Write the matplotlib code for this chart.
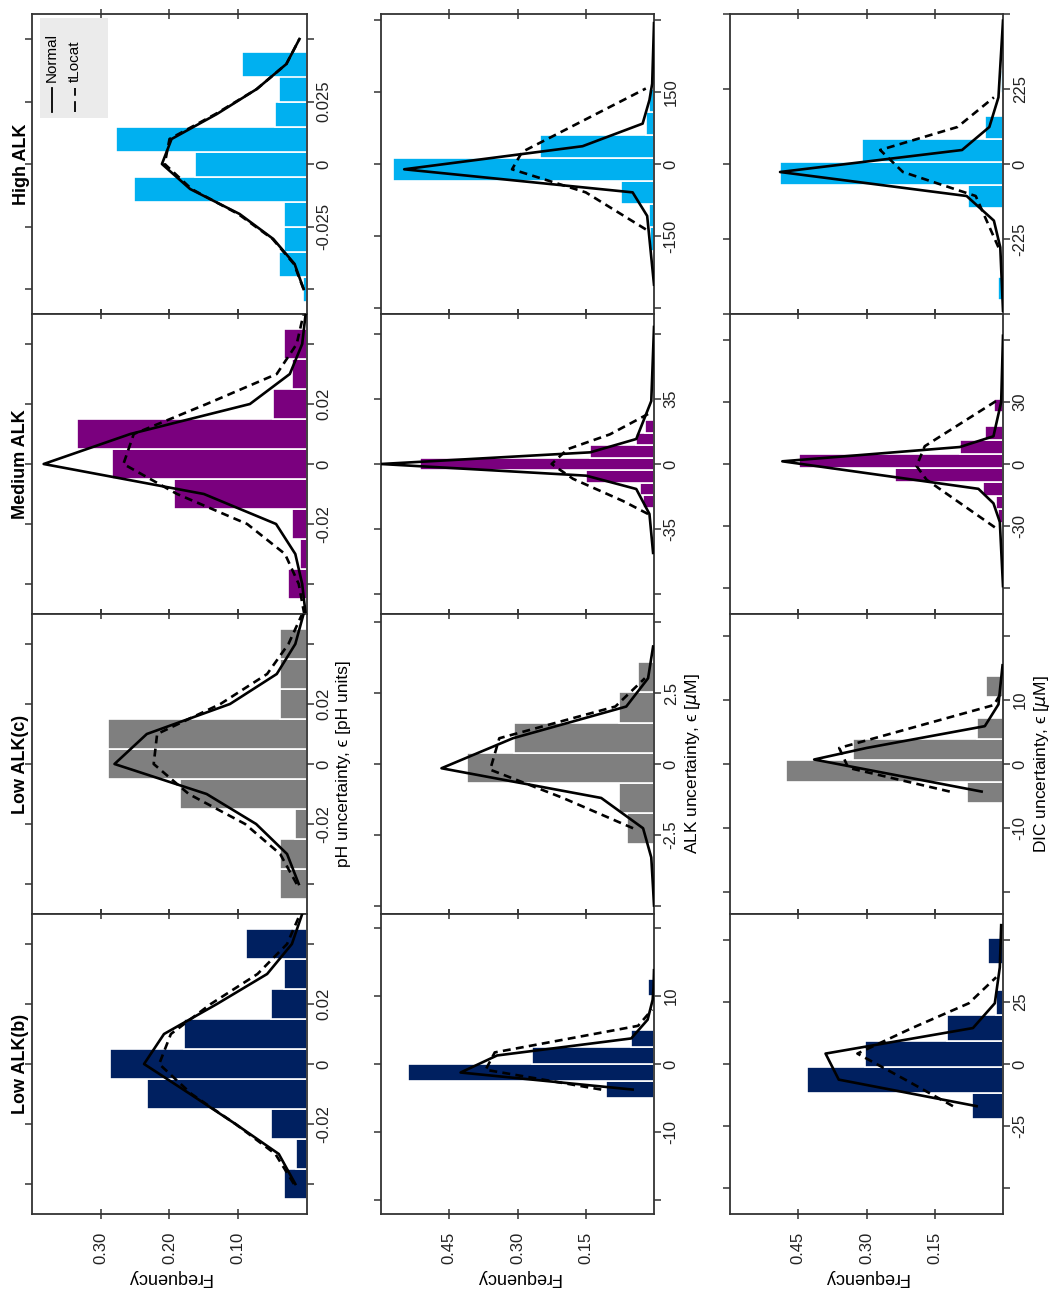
import numpy as np
import matplotlib
matplotlib.use('Agg')
import matplotlib.pyplot as plt
from matplotlib.patches import Rectangle
from matplotlib.lines import Line2D

plt.rcParams['font.family'] = ['Liberation Sans', 'DejaVu Sans']
plt.rcParams['axes.unicode_minus'] = False

# ---------------- data ----------------
groups = ['High ALK', 'Medium ALK', 'Low ALK(c)', 'Low ALK(b)']
group_colors = ['#00b0f0', '#7a007e', '#7f7f7f', '#002060']
variables = ['pH', 'ALK', 'DIC']
var_labels = ['pH uncertainty, \u03f5 [pH units]',
              'ALK uncertainty, \u03f5 [$\\mu$M]',
              'DIC uncertainty, \u03f5 [$\\mu$M]']

# pH
ph_high_bins = [-0.05, -0.04, -0.03, -0.02, -0.01, 0.0, 0.01, 0.02, 0.03, 0.04]
ph_high_freq = [0.006, 0.041, 0.034, 0.034, 0.251, 0.163, 0.278, 0.046, 0.040, 0.094]
ph_high_npts = [-0.05, -0.04, -0.03, -0.02, -0.01, 0.0, 0.01, 0.02, 0.03, 0.04, 0.05]
ph_high_norm = [0.005, 0.018, 0.049, 0.098, 0.170, 0.211, 0.197, 0.131, 0.073, 0.030, 0.011]
ph_high_tpts = [-0.05, -0.04, -0.03, -0.02, -0.01, 0.0, 0.01, 0.02, 0.03, 0.04, 0.05]
ph_high_tloc = [0.005, 0.019, 0.050, 0.100, 0.168, 0.207, 0.200, 0.133, 0.073, 0.030, 0.011]

ph_med_bins = [-0.04, -0.03, -0.02, -0.01, 0.0, 0.01, 0.02, 0.03, 0.04]
ph_med_freq = [0.028, 0.010, 0.022, 0.193, 0.284, 0.335, 0.049, 0.022, 0.034]
ph_med_npts = [-0.05, -0.04, -0.03, -0.02, -0.01, 0.0, 0.01, 0.02, 0.03, 0.04, 0.05]
ph_med_norm = [0.002, 0.007, 0.017, 0.045, 0.150, 0.383, 0.257, 0.083, 0.025, 0.007, 0.002]
ph_med_tpts = [-0.05, -0.04, -0.03, -0.02, -0.01, 0.0, 0.01, 0.02, 0.03, 0.04, 0.05]
ph_med_tloc = [0.004, 0.012, 0.032, 0.087, 0.189, 0.267, 0.252, 0.146, 0.044, 0.015, 0.005]

ph_lowc_bins = [-0.04, -0.03, -0.02, -0.01, 0.0, 0.01, 0.02, 0.03, 0.04]
ph_lowc_freq = [0.039, 0.039, 0.018, 0.184, 0.289, 0.289, 0.039, 0.039, 0.039]
ph_lowc_npts = [-0.04, -0.03, -0.02, -0.01, 0.0, 0.01, 0.02, 0.03, 0.04, 0.05]
ph_lowc_norm = [0.012, 0.029, 0.074, 0.146, 0.280, 0.233, 0.112, 0.044, 0.017, 0.005]
ph_lowc_tpts = [-0.04, -0.03, -0.02, -0.01, 0.0, 0.01, 0.02, 0.03, 0.04, 0.05]
ph_lowc_tloc = [0.015, 0.039, 0.090, 0.172, 0.223, 0.218, 0.126, 0.058, 0.027, 0.007]

ph_lowb_bins = [-0.04, -0.03, -0.02, -0.01, 0.0, 0.01, 0.02, 0.03, 0.04]
ph_lowb_freq = [0.034, 0.016, 0.052, 0.232, 0.286, 0.179, 0.052, 0.034, 0.088]
ph_lowb_npts = [-0.04, -0.03, -0.02, -0.01, 0.0, 0.01, 0.02, 0.03, 0.04, 0.05]
ph_lowb_norm = [0.017, 0.041, 0.104, 0.170, 0.237, 0.208, 0.131, 0.058, 0.022, 0.007]
ph_lowb_tpts = [-0.04, -0.03, -0.02, -0.01, 0.0, 0.01, 0.02, 0.03, 0.04, 0.05]
ph_lowb_tloc = [0.019, 0.046, 0.104, 0.168, 0.215, 0.198, 0.140, 0.072, 0.029, 0.010]

# ALK
alk_high_bins = [-156, -108, -59, -11, 37, 85, 133]
alk_high_freq = [0.009, 0.011, 0.073, 0.574, 0.251, 0.017, 0.010]
alk_high_npts = [-251, -108, -59, -11, 37, 84, 133, 167, 293]
alk_high_norm = [0.0, 0.015, 0.047, 0.549, 0.157, 0.025, 0.010, 0.004, 0.0]
alk_high_tpts = [-136, -59, -11, 25, 157]
alk_high_tloc = [0.018, 0.150, 0.312, 0.290, 0.018]

alk_med_bins = [-20.4, -13.6, -6.8, 0.0, 6.8, 13.6, 20.4]
alk_med_freq = [0.025, 0.030, 0.150, 0.514, 0.140, 0.040, 0.020]
alk_med_npts = [-48, -27, -13.5, -6.3, 0, 6.3, 13.5, 34, 74]
alk_med_norm = [0.002, 0.010, 0.039, 0.149, 0.600, 0.140, 0.039, 0.006, 0.0]
alk_med_tpts = [-27, -20, -8, 0, 8, 16, 27]
alk_med_tloc = [0.013, 0.068, 0.178, 0.225, 0.190, 0.097, 0.013]

alk_lowc_bins = [-2.28, -1.21, -0.14, 0.93, 2.0, 3.07]
alk_lowc_freq = [0.059, 0.077, 0.412, 0.308, 0.077, 0.035]
alk_lowc_npts = [-5.0, -4.4, -3.3, -2.27, -1.2, -0.15, 0.91, 2.03, 3.03, 4.15]
alk_lowc_norm = [0.0, 0.002, 0.006, 0.024, 0.116, 0.467, 0.310, 0.061, 0.013, 0.002]
alk_lowc_tpts = [-2.27, -1.2, -0.2, 0.91, 2.03, 3.03]
alk_lowc_tloc = [0.046, 0.200, 0.360, 0.340, 0.085, 0.020]

alk_lowb_bins = [-3.75, -1.25, 1.25, 3.75, 6.25, 8.75, 11.25]
alk_lowb_freq = [0.105, 0.540, 0.269, 0.050, 0.0, 0.0, 0.014]
alk_lowb_npts = [-3.75, -1.25, 1.25, 3.75, 6.5, 9.4, 11.25, 13.75]
alk_lowb_norm = [0.047, 0.425, 0.345, 0.050, 0.014, 0.003, 0.001, 0.0]
alk_lowb_tpts = [-3.75, -0.85, 1.7, 5.6, 8.0]
alk_lowb_tloc = [0.116, 0.370, 0.350, 0.035, 0.004]

# DIC
dic_high_bins = [-372, -303, -234, -165, -96, -27, 42, 111, 180, 249]
dic_high_freq = [0.010, 0.0, 0.0, 0.0, 0.077, 0.490, 0.310, 0.040, 0.0, 0.005]
dic_high_npts = [-440, -250, -170, -96, -24, 42, 111, 200, 430]
dic_high_norm = [0.0, 0.006, 0.020, 0.080, 0.490, 0.090, 0.030, 0.010, 0.0]
dic_high_tpts = [-250, -96, -24, 42, 111, 200]
dic_high_tloc = [0.010, 0.060, 0.220, 0.270, 0.100, 0.020]

dic_med_bins = [-25.3, -18.6, -11.9, -5.2, 1.5, 8.2, 14.9, 21.6, 28.3]
dic_med_freq = [0.010, 0.015, 0.043, 0.238, 0.448, 0.095, 0.040, 0.0, 0.020]
dic_med_npts = [-59, -28, -19, -12, 1.3, 8.2, 13.4, 30, 62]
dic_med_norm = [0.0, 0.007, 0.021, 0.054, 0.485, 0.095, 0.021, 0.004, 0.0]
dic_med_tpts = [-30.6, -7.6, -1.0, 8.6, 30.6]
dic_med_tloc = [0.018, 0.168, 0.190, 0.172, 0.014]

dic_lowc_bins = [-4.4, -1.1, 2.2, 5.5, 8.8, 12.1]
dic_lowc_freq = [0.080, 0.477, 0.330, 0.058, 0.0, 0.0375]
dic_lowc_npts = [-4.3, 0.7, 2.5, 5.9, 9.3, 15.4]
dic_lowc_norm = [0.047, 0.415, 0.300, 0.040, 0.010, 0.001]
dic_lowc_tpts = [-4.3, -0.6, 2.5, 9.2, 11.0]
dic_lowc_tloc = [0.117, 0.340, 0.360, 0.020, 0.005]

dic_lowb_bins = [-16.8, -6.4, 4.0, 14.4, 24.8, 35.2, 45.6]
dic_lowb_freq = [0.069, 0.431, 0.304, 0.124, 0.015, 0.0, 0.033]
dic_lowb_npts = [-17, -6.3, 4.2, 14.5, 24.5, 39, 56]
dic_lowb_norm = [0.058, 0.361, 0.390, 0.066, 0.018, 0.007, 0.004]
dic_lowb_tpts = [-17, -6.3, 4.2, 14.5, 24.5, 35]
dic_lowb_tloc = [0.110, 0.215, 0.320, 0.200, 0.075, 0.015]

# frequency axis per column
freq_max = [0.4, 0.6, 0.6]
freq_ticks = [[0.1, 0.2, 0.3], [0.15, 0.30, 0.45], [0.15, 0.30, 0.45]]
freq_ticklabels = [['0.10', '0.20', '0.30'], ['0.15', '0.30', '0.45'], ['0.15', '0.30', '0.45']]

panels = {
    'pH': [
        (ph_high_bins, ph_high_freq, ph_high_npts, ph_high_norm, ph_high_tpts, ph_high_tloc),
        (ph_med_bins, ph_med_freq, ph_med_npts, ph_med_norm, ph_med_tpts, ph_med_tloc),
        (ph_lowc_bins, ph_lowc_freq, ph_lowc_npts, ph_lowc_norm, ph_lowc_tpts, ph_lowc_tloc),
        (ph_lowb_bins, ph_lowb_freq, ph_lowb_npts, ph_lowb_norm, ph_lowb_tpts, ph_lowb_tloc),
    ],
    'ALK': [
        (alk_high_bins, alk_high_freq, alk_high_npts, alk_high_norm, alk_high_tpts, alk_high_tloc),
        (alk_med_bins, alk_med_freq, alk_med_npts, alk_med_norm, alk_med_tpts, alk_med_tloc),
        (alk_lowc_bins, alk_lowc_freq, alk_lowc_npts, alk_lowc_norm, alk_lowc_tpts, alk_lowc_tloc),
        (alk_lowb_bins, alk_lowb_freq, alk_lowb_npts, alk_lowb_norm, alk_lowb_tpts, alk_lowb_tloc),
    ],
    'DIC': [
        (dic_high_bins, dic_high_freq, dic_high_npts, dic_high_norm, dic_high_tpts, dic_high_tloc),
        (dic_med_bins, dic_med_freq, dic_med_npts, dic_med_norm, dic_med_tpts, dic_med_tloc),
        (dic_lowc_bins, dic_lowc_freq, dic_lowc_npts, dic_lowc_norm, dic_lowc_tpts, dic_lowc_tloc),
        (dic_lowb_bins, dic_lowb_freq, dic_lowb_npts, dic_lowb_norm, dic_lowb_tpts, dic_lowb_tloc),
    ],
}

# uncertainty axis: half range, tick step (labels only on the inner three ticks)
unc_range = {
    'pH': [(0.06, 0.025), (0.05, 0.02), (0.05, 0.02), (0.05, 0.02)],
    'ALK': [(312, 150), (81, 35), (5.3, 2.5), (22, 10)],
    'DIC': [(445, 225), (72.5, 30), (23.4, 10), (60.5, 25)],
}

# ---------------- layout (pixels) ----------------
W, H = 1052, 1290
col_left = [32, 381, 730]
col_width = [275, 273, 273]
row_top = [14, 314, 614, 914]
row_h = 300
frame_col = '#333333'

fig = plt.figure(figsize=(W / 100, H / 100), dpi=100)


def px_axes(x0, y0, w, h):
    return fig.add_axes([x0 / W, 1 - (y0 + h) / H, w / W, h / H])


for c, var in enumerate(variables):
    for r, grp in enumerate(groups):
        ax = px_axes(col_left[c], row_top[r], col_width[c], row_h)
        bins, freq, npts, norm, tpts, tloc = panels[var][r]
        width = bins[1] - bins[0]
        ax.barh(bins, freq, height=width, color=group_colors[r],
                edgecolor='white', linewidth=1.2, zorder=1)
        ax.plot(tloc, tpts, color='black', lw=1.9, ls=(0, (3, 2)), zorder=2)
        ax.plot(norm, npts, color='black', lw=1.9, zorder=3)

        ax.set_xlim(freq_max[c], 0)
        half, step = unc_range[var][r]
        ax.set_ylim(-half, half)
        ticks = [-2 * step, -step, 0, step, 2 * step]
        labels = ['', '%g' % -step, '0', '%g' % step, '']
        ax.set_yticks(ticks)
        ax.set_yticklabels(labels, rotation=90, va='center', ha='left')
        ax.tick_params(axis='y', left=True, right=True, labelleft=False,
                       labelright=True, direction='out', length=5, width=1.1,
                       pad=2, labelsize=12, color=frame_col, labelcolor='#222222')

        ax.set_xticks(freq_ticks[c])
        if r == len(groups) - 1:
            ax.set_xticklabels(freq_ticklabels[c], rotation=90, ha='center', va='top')
            ax.set_xlabel('Frequency', rotation=180, fontsize=13, labelpad=4)
        else:
            ax.set_xticklabels([])
        ax.tick_params(axis='x', top=True, bottom=True, direction='inout',
                       length=7, width=1.1, pad=9, labelsize=12,
                       color=frame_col, labelcolor='#222222')

        if r == 2:
            ax.yaxis.set_label_position('right')
            ax.set_ylabel(var_labels[c], rotation=90, fontsize=12.5, labelpad=3)

        for sp in ax.spines.values():
            sp.set_color(frame_col)
            sp.set_linewidth(1.3)

        # legend drawn upright in the rotated frame
        if c == 0 and r == 0:
            ax.add_patch(Rectangle((0.029, 0.653), 0.247, 0.334, transform=ax.transAxes,
                                   facecolor='#ebebeb', edgecolor='none', zorder=4))
            ax.add_line(Line2D([0.073, 0.073], [0.673, 0.753], transform=ax.transAxes,
                               color='black', lw=1.3, zorder=5))
            ax.add_line(Line2D([0.156, 0.156], [0.673, 0.753], transform=ax.transAxes,
                               color='black', lw=1.3, ls=(0, (6, 3)), zorder=5))
            ax.text(0.073, 0.773, 'Normal', transform=ax.transAxes, rotation=90,
                    ha='center', va='bottom', fontsize=11, zorder=6)
            ax.text(0.156, 0.773, 'tLocat', transform=ax.transAxes, rotation=90,
                    ha='center', va='bottom', fontsize=11, zorder=6)

# group titles on the left
for r, grp in enumerate(groups):
    fig.text(21 / W, 1 - (row_top[r] + row_h / 2) / H, grp, rotation=90,
             fontsize=13, fontweight='bold', ha='center', va='center')

fig.savefig('out.png', dpi=100)
